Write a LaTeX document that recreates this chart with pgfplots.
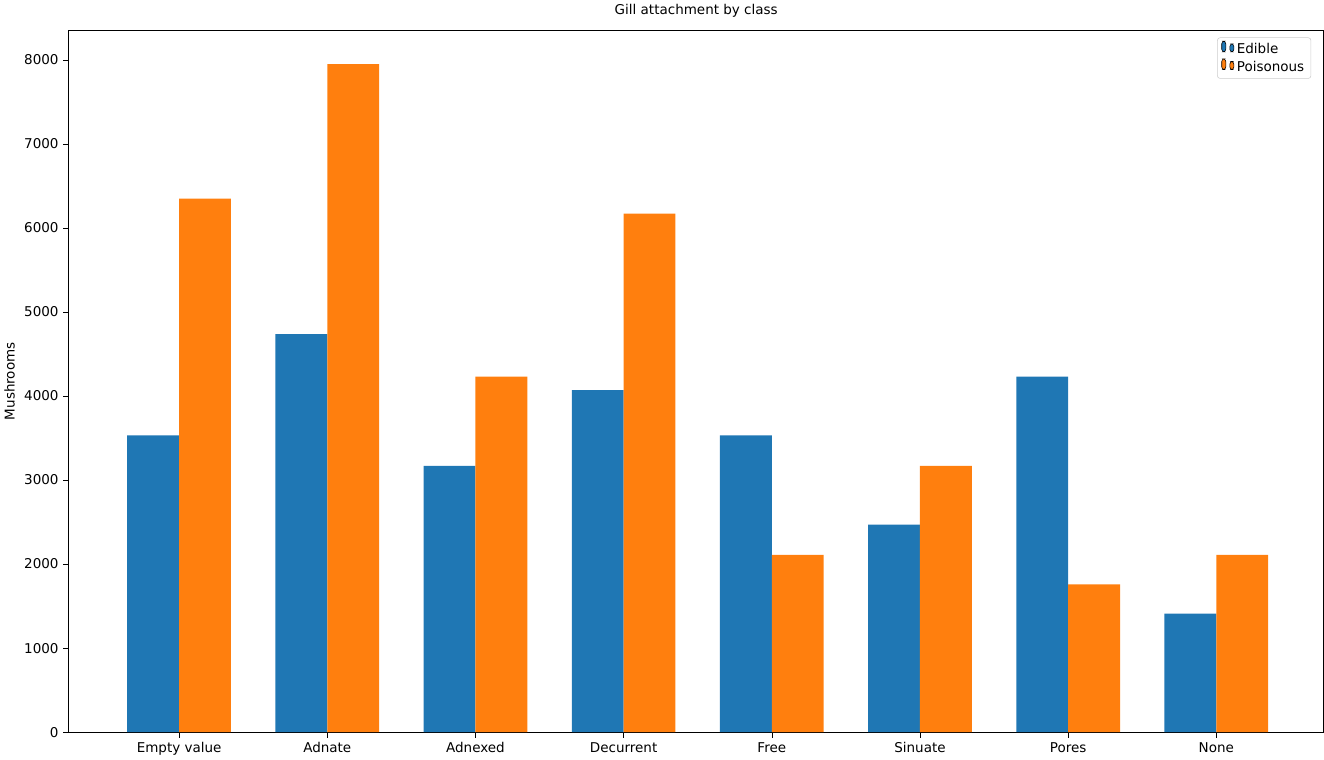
\documentclass[border=0pt]{standalone}
\usepackage{pgfplots}
\pgfplotsset{compat=1.18}
\usepackage{fontspec}
\setmainfont{DejaVu Sans}
\definecolor{c1}{HTML}{1F77B4}
\definecolor{c2}{HTML}{FF7F0E}
\begin{document}
\begin{tikzpicture}
\begin{axis}[
  scale only axis, width=930pt, height=520pt,
  xmin=-0.745, xmax=7.725, ymin=0, ymax=8350,
  xtick={0,...,7},
  xticklabels={Empty value,Adnate,Adnexed,Decurrent,Free,Sinuate,Pores,None},
  ytick={0,1000,...,8000},
  scaled y ticks=false,
  /pgf/number format/assume math mode=true,
  yticklabel style={/pgf/number format/1000 sep={}},
  tick style={black}, tick align=outside, tick pos=left,
  major tick length=4pt,
  ylabel={Mushrooms},
  title={Gill attachment by class},
  legend style={at={(0.99,0.99)},anchor=north east,draw=black!20,rounded corners=2pt,cells={anchor=west}},
  legend image code/.code={\fill[#1] (0pt,-3pt) rectangle (16pt,4pt);},
  ybar, bar width=0.35,
]
\addplot[fill=c1,draw=none,bar shift=-0.175] coordinates {(0,3530)(1,4735)(2,3170)(3,4070)(4,3530)(5,2470)(6,4230)(7,1410)};
\addplot[fill=c2,draw=none,bar shift=0.175] coordinates {(0,6350)(1,7950)(2,4230)(3,6170)(4,2110)(5,3170)(6,1760)(7,2110)};
\legend{Edible,Poisonous}
\end{axis}
\end{tikzpicture}
\end{document}
